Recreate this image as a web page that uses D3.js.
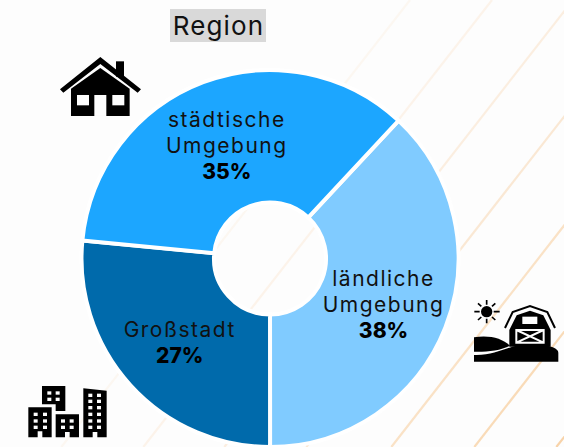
<!DOCTYPE html>
<html>
<head>
<meta charset="utf-8">
<script src="https://cdn.jsdelivr.net/npm/d3@7"></script>
<style>
  html, body { margin: 0; padding: 0; background: #fdfdfd; }
  svg { display: block; }
  text { font-family: Inter, "Open Sans", sans-serif; fill: #111; }
</style>
</head>
<body>
<div id="chart"></div>
<script>
const title = 'Region';
const regions = [['ländliche', 'Umgebung'], ['Großstadt'], ['städtische', 'Umgebung']];
const shares = [38.05, 26.53, 35.42];
const sliceColors = ['#80cbff', '#006aab', '#1ca6ff'];

// stripes in the background, x where each one meets the top edge
const stripeStarts = [410, 492, 573, 655, 740, 823, 905];
const stripeOpacity = [0.08, 0.13, 0.2, 0.28, 0.38, 0.48, 0.58];

const width = 564, height = 447;
const cx = 270, cy = 258.5, outer = 188.5, inner = 56;

const svg = d3.select('#chart').append('svg')
  .attr('width', width)
  .attr('height', height);

svg.append('rect')
  .attr('width', width)
  .attr('height', height)
  .attr('fill', '#fdfdfd');

svg.selectAll('line.stripe')
  .data(stripeStarts)
  .enter().append('line')
  .attr('class', 'stripe')
  .attr('x1', d => d)
  .attr('y1', 0)
  .attr('x2', d => d - 0.78 * height)
  .attr('y2', height)
  .attr('stroke', '#f5b56c')
  .attr('stroke-width', 2.2)
  .attr('stroke-opacity', (d, i) => stripeOpacity[i]);

const pie = d3.pie().sort(null).startAngle(0.7505).endAngle(Math.PI * 2 + 0.7505);
const arc = d3.arc().innerRadius(inner).outerRadius(outer);
const labelArc = d3.arc().innerRadius(122).outerRadius(122);
const slices = pie(shares);

const chart = svg.append('g').attr('transform', `translate(${cx},${cy})`);

chart.selectAll('path')
  .data(slices)
  .enter().append('path')
  .attr('d', arc)
  .attr('fill', (d, i) => sliceColors[i])
  .attr('stroke', '#fff')
  .attr('stroke-width', 4);

slices.forEach((d, i) => {
  const [lx, ly] = labelArc.centroid(d);
  const lines = regions[i];
  const total = lines.length + 1;
  const label = chart.append('text')
    .attr('text-anchor', 'middle')
    .attr('transform', `translate(${lx},${ly + 2})`)
    .style('font-size', '21px');
  lines.forEach((line, j) => {
    label.append('tspan')
      .attr('x', 0)
      .attr('y', (j - (total - 1) / 2) * 26 + 7)
      .style('letter-spacing', '1.5px')
      .text(line);
  });
  label.append('tspan')
    .attr('x', 0)
    .attr('y', (total - 1) / 2 * 26 + 7)
    .style('font-weight', 800)
    .style('fill', '#000')
    .text(Math.round(d.data) + '%');
});

// title
svg.append('rect')
  .attr('x', 170).attr('y', 9)
  .attr('width', 96).attr('height', 33)
  .attr('fill', '#d9d9d9');
svg.append('text')
  .attr('x', 218.5).attr('y', 35)
  .attr('text-anchor', 'middle')
  .style('font-size', '26px')
  .style('letter-spacing', '1.1px')
  .text(title);

// icons, drawn in 3x coordinates
const bg = '#fdfdfd';

const house = svg.append('g').attr('transform', 'scale(0.3333)');
house.append('path').attr('d', 'M348,230V184H372V230Z');
house.append('path').attr('d', 'M180,268L301,171L423,268L413,278L301,192L190,278Z');
house.append('path').attr('d', 'M213,348V266L301,204L389,266V348Z');
house.selectAll('rect')
  .data([[231, 285, 36, 31], [337, 285, 36, 31], [283, 285, 36, 63]])
  .enter().append('rect')
  .attr('x', d => d[0]).attr('y', d => d[1])
  .attr('width', d => d[2]).attr('height', d => d[3])
  .attr('fill', bg);

const barn = svg.append('g').attr('transform', 'translate(440,280) scale(0.3333)');
barn.append('circle').attr('cx', 140).attr('cy', 95).attr('r', 17);
barn.append('path')
  .attr('d', 'M140,60V74M140,116V130M103,95H119M161,95H179M114,70L124,79M156,111L166,120M166,70L156,79M124,111L114,120')
  .attr('stroke', '#000').attr('stroke-width', 5).attr('fill', 'none');
barn.append('path')
  .attr('d', 'M195,144L218,96L270,78L322,96L345,144')
  .attr('stroke', '#000').attr('stroke-width', 6).attr('fill', 'none');
barn.append('path').attr('d', 'M208,150L230,106L270,92L310,106L332,150V200H208Z');
barn.append('rect').attr('x', 247).attr('y', 110).attr('width', 45).attr('height', 22)
  .attr('fill', bg);
barn.append('path')
  .attr('d', 'M229,150H311V188H229ZM229,150L311,188M311,150L229,188')
  .attr('stroke', bg).attr('stroke-width', 6).attr('fill', 'none');
barn.append('path').attr('d', 'M102,172C150,165 185,175 210,197C180,212 140,216 102,215Z');
barn.append('path').attr('d', 'M102,225C170,228 210,192 270,192C310,192 355,200 355,218V245H102Z');

const city = svg.append('g').attr('transform', 'translate(0,370) scale(0.3333)');
city.append('path').attr('d', 'M126,48H196V123H167V103H126Z');
city.append('path').attr('d', 'M85,112H155V202H127V184H113V202H85Z');
city.append('path').attr('d', 'M167,133H237V202H209V186H195V202H167Z');
city.append('path').attr('d', 'M250,55L320,62V202H292V186H278V202H250Z');
const cityWindows = [
  [142, 64], [167, 64], [142, 83], [167, 83],
  [101, 128], [129, 128], [101, 148], [129, 148], [101, 167], [129, 167],
  [183, 148], [209, 148], [183, 167], [209, 167],
  [265, 71], [291, 71], [265, 89], [291, 89], [265, 108], [291, 108],
  [265, 128], [291, 128], [265, 148], [291, 148], [265, 167], [291, 167]
];
city.selectAll('rect')
  .data(cityWindows)
  .enter().append('rect')
  .attr('x', d => d[0]).attr('y', d => d[1])
  .attr('width', 12).attr('height', 10)
  .attr('fill', bg);
</script>
</body>
</html>
